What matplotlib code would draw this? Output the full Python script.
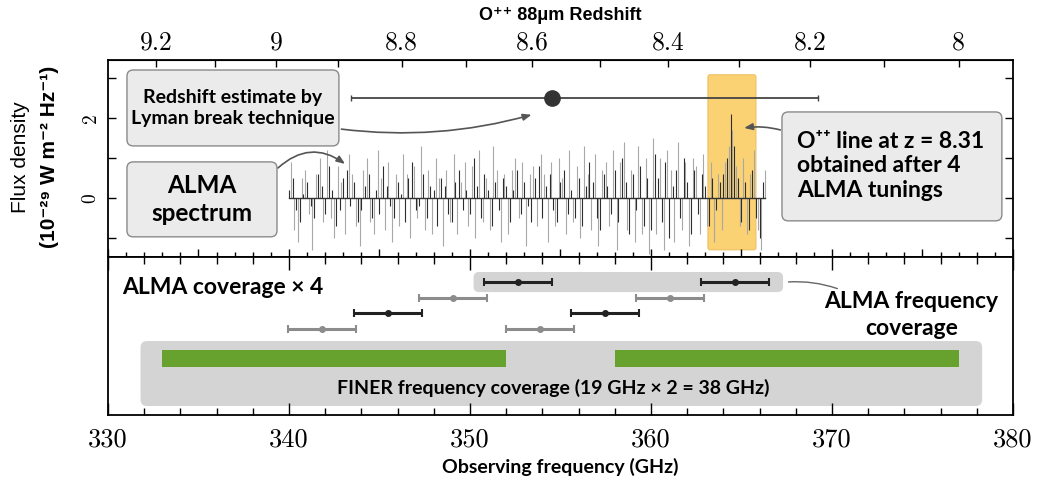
import matplotlib
matplotlib.use('Agg')
import matplotlib.pyplot as plt
from matplotlib.patches import FancyBboxPatch, Rectangle
import numpy as np

plt.rcParams['axes.formatter.use_mathtext'] = True

REST_GHZ = 3393.006  # [OIII] 88 micron rest frequency

# ALMA spectrum, 0.2 GHz channels (two interleaved sets)
spec_start = 340.0
spec_step = 0.2
spec_dark = [0.2, 0.5, -0.3, -0.6, 0.1, 0.4, -0.2, -0.5, 0.6, 0.3,
             -0.4, 0.8, 0.2, -0.7, -0.3, 0.5, 0.7, -0.2, 0.4, -0.6,
             -0.3, 0.3, 0.6, -0.5, 0.2, -0.4, 0.8, 0.3, -0.2, -0.5,
             0.4, 0.1, -0.6, 0.5, 0.9, -0.3, -0.2, 0.6, -0.5, 0.3,
             0.2, -0.7, 0.5, 0.3, -0.4, -0.6, 0.4, 0.7, -0.3, 0.2,
             -0.4, 1.0, 0.3, -0.5, 0.6, 0.2, -0.7, 0.4, -0.3, 0.5,
             0.3, -0.6, 0.2, 0.7, -0.4, 0.4, -0.2, -0.6, 0.5, 0.8,
             -0.5, 0.3, 0.6, -0.3, -0.6, 0.4, 0.7, -0.4, 0.2, -0.5,
             0.5, -0.7, 0.3, 0.9, 0.4, -0.5, -0.8, 0.6, 0.3, -0.4,
             0.7, -0.6, 1.0, 0.4, -0.9, 0.6, -0.3, 0.8, -0.7, 0.5,
             -0.8, 1.1, 0.5, -0.6, 0.9, -1.0, 0.3, 0.7, -0.5, 1.0,
             0.4, -0.9, 0.7, -0.4, 0.6, 0.3, -0.7, 0.5, -0.3, 0.4,
             0.6, 1.0, 2.1, 1.3, 0.5, -0.6, 0.4, -0.8, 0.7, -0.5,
             -1.0, 0.4]
spec_light = [0.9, -0.8, -1.1, 0.5, 0.7, -0.4, -1.3, 0.6, 1.0, -0.6,
              1.2, -0.5, -1.0, 0.8, 0.4, -0.9, 1.1, 0.6, -0.7, -1.2,
              0.7, 1.0, -0.6, -0.9, 1.2, 0.5, -0.8, 0.9, -1.1, 0.6,
              -0.7, 1.1, 0.6, -1.0, 0.8, -0.5, 1.3, -0.8, 0.7, -0.9,
              1.0, 0.5, -1.2, 0.7, -0.6, 1.1, -0.9, 0.4, 0.9, -0.7,
              0.8, -1.0, 1.2, -0.6, 0.5, -0.8, 1.3, 0.7, -1.1, 0.6,
              -0.9, 0.7, 1.0, -0.5, 0.9, -1.2, 0.6, 0.8, -0.7, 1.1,
              0.6, -1.1, 0.9, -0.7, 1.0, 0.5, -0.9, 1.2, -0.6, 0.8,
              -1.0, 1.3, 0.6, -0.8, 1.1, -1.2, 0.7, 0.9, -0.7, 1.2,
              -1.3, 0.9, 1.4, -0.8, 0.7, -1.1, 1.3, -0.9, 1.0, -1.4,
              1.5, -0.9, 1.0, -1.3, 1.2, 0.7, -1.1, 1.4, -0.8, 0.9,
              -1.2, 1.0, 0.8, -0.9, 1.1, -0.7, 0.9, -1.1, 0.6, -0.8,
              0.9, 1.3, 1.7, 0.8, -0.7, 1.0, -0.9, 0.6, 1.2, -0.8,
              -1.3, 0.7]

# Lyman break redshift estimate
z_lyman = 8.57
z_lyman_lo = 8.19
z_lyman_hi = 8.88
line_window = [363.15, 365.8]

# ALMA tunings (centres of the two sideband pairs) and FINER bands
tuning_centres = [[352.65, 364.65], [349.05, 361.05], [345.45, 357.45], [341.85, 353.85]]
tuning_colors = ['#222222', '#8c8c8c', '#222222', '#8c8c8c']
spw_half = 1.875
finer_bands = [[333.0, 352.0], [358.0, 377.0]]

freq_ticks = [330, 340, 350, 360, 370, 380]
z_ticks = [8.0, 8.2, 8.4, 8.6, 8.8, 9.0, 9.2]
z_labels = ['8', '8.2', '8.4', '8.6', '8.8', '9', '9.2']

TICKFONT = 'cmr10'
BOLD = ['Lato', 'DejaVu Sans']
SANS = ['Liberation Sans', 'DejaVu Sans']


def f2z(f):
    f = np.asarray(f, dtype=float)
    return REST_GHZ / np.where(f == 0, 1e-9, f) - 1


def z2f(z):
    z = np.asarray(z, dtype=float)
    return REST_GHZ / (1 + z)


def rbox(ax, x0, x1, y0, y1, fc, ec, r, aspect, **kw):
    p = FancyBboxPatch((x0, y0), x1 - x0, y1 - y0,
                       boxstyle='round,pad=0,rounding_size=%g' % r,
                       mutation_aspect=aspect, fc=fc, ec=ec, **kw)
    ax.add_patch(p)
    return p


fig = plt.figure(figsize=(10.39, 4.82), dpi=100)
ax1 = fig.add_axes([0.1039, 0.4668, 0.871, 0.4087])
ax2 = fig.add_axes([0.1039, 0.139, 0.871, 0.3278])

# ---------------- top panel: spectrum ----------------
f_dark = spec_start + spec_step * np.arange(len(spec_dark))
f_light = spec_start + spec_step / 2 + spec_step * np.arange(len(spec_light))
ax1.vlines(f_light, 0, spec_light, color='#a8a8a8', lw=0.8, zorder=2)
ax1.vlines(f_dark, 0, spec_dark, color='#2e2e2e', lw=0.8, zorder=3)
ax1.plot([f_dark[0], f_light[-1]], [0, 0], color='#333333', lw=1.0, zorder=3)

rbox(ax1, line_window[0], line_window[1], -1.3, 3.08, '#fbd273', '#efc060',
     0.12, 0.45, lw=0.8, zorder=1)

f_lb = z2f(z_lyman)
ax1.errorbar([f_lb], [2.5], xerr=[[f_lb - z2f(z_lyman_hi)], [z2f(z_lyman_lo) - f_lb]],
             fmt='o', ms=11, color='#333333', ecolor='#444444', elinewidth=1.3,
             capsize=2, capthick=1.0, zorder=6)

box_fc = '#ebebeb'
box_ec = '#8a8a8a'
rbox(ax1, 331.05, 342.76, 1.3, 3.2, box_fc, box_ec, 0.35, 0.45, lw=1.0, zorder=5)
ax1.text(336.9, 2.25, 'Redshift estimate by\nLyman break technique', ha='center',
         va='center', fontsize=14, fontweight='bold', family=BOLD, linespacing=1.25, zorder=7)
rbox(ax1, 331.05, 339.34, -0.975, 0.9, box_fc, box_ec, 0.35, 0.45, lw=1.0, zorder=5)
ax1.text(335.2, -0.04, 'ALMA\nspectrum', ha='center', va='center', fontsize=17.5,
         fontweight='bold', family=BOLD, linespacing=1.3, zorder=7)
rbox(ax1, 367.24, 379.39, -0.575, 2.15, box_fc, box_ec, 0.35, 0.45, lw=1.0, zorder=5)
ax1.text(368.05, 0.8, 'O\u207a\u207a line at z = 8.31\nobtained after 4\nALMA tunings',
         ha='left', va='center', fontsize=16.5, fontweight='bold', family=BOLD,
         linespacing=1.2, zorder=7)

arrow = dict(arrowstyle='-|>,head_length=0.5,head_width=0.2', color='#555555', lw=1.2,
             shrinkA=0, shrinkB=0)
ax1.annotate('', xy=(353.4, 2.08), xytext=(342.9, 1.72),
             arrowprops=dict(arrow, connectionstyle='arc3,rad=0.1'), zorder=7)
ax1.annotate('', xy=(343.1, 0.85), xytext=(339.4, 0.75),
             arrowprops=dict(arrow, connectionstyle='arc3,rad=-0.4'), zorder=7)
ax1.annotate('', xy=(365.15, 1.75), xytext=(367.15, 1.7),
             arrowprops=dict(arrow, connectionstyle='arc3,rad=0.1'), zorder=7)

ax1.set_xlim(330, 380)
ax1.set_ylim(-1.48, 3.45)
ax1.set_yticks([0, 2])
ax1.set_yticks([-1, 1, 3], minor=True)
ax1.set_yticklabels(['0', '2'], rotation=90, va='center', family=TICKFONT, fontsize=14)
ax1.set_xticks(np.arange(330, 381, 5))
ax1.set_xticks(np.arange(330, 381, 1), minor=True)
ax1.tick_params(axis='x', which='both', direction='in', labelbottom=False)
ax1.tick_params(axis='x', which='major', length=6, width=1.0)
ax1.tick_params(axis='x', which='minor', length=3.5, width=1.0)
ax1.tick_params(axis='y', which='both', direction='in', right=True, length=6, width=1.0, pad=6)

sec = ax1.secondary_xaxis('top', functions=(f2z, z2f))
sec.set_xticks(z_ticks)
sec.set_xticklabels(z_labels, family=TICKFONT, fontsize=18.5)
sec.set_xticks(np.arange(8.1, 9.3, 0.2), minor=True)
sec.tick_params(which='both', direction='in', length=5, width=1.0, pad=4)
sec.set_xlabel('O\u207a\u207a 88\u03bcm Redshift', fontsize=13, fontweight='bold',
               family=SANS, labelpad=8)

for a in (ax1, ax2):
    for s in a.spines.values():
        s.set_linewidth(1.3)

# ---------------- bottom panel: coverage ----------------
row_y = [0.842, 0.741, 0.646, 0.544]
rbox(ax2, 350.2, 367.3, 0.778, 0.905, '#d4d4d4', 'none', 0.3, 0.115, zorder=1)
for cents, col, y in zip(tuning_centres, tuning_colors, row_y):
    for c in cents:
        ax2.errorbar([c], [y], xerr=spw_half, fmt='o', ms=4, color=col, elinewidth=2.2,
                     capsize=3, capthick=1.5, zorder=3)

rbox(ax2, 331.8, 378.3, 0.057, 0.468, '#d4d4d4', 'none', 0.35, 0.115, zorder=1)
for lo, hi in finer_bands:
    ax2.add_patch(Rectangle((lo, 0.304), hi - lo, 0.107, fc='#67a22f', ec='none', zorder=2))
ax2.text(354.6, 0.171, 'FINER frequency coverage (19 GHz \u00d7 2 = 38 GHz)', ha='center',
         va='center', fontsize=14, fontweight='bold', family=BOLD, zorder=3)
ax2.text(330.8, 0.804, 'ALMA coverage \u00d7 4', ha='left', va='center', fontsize=16.5,
         fontweight='bold', family=BOLD)
ax2.text(374.4, 0.635, 'ALMA frequency\ncoverage', ha='center', va='center', fontsize=16.5,
         fontweight='bold', family=BOLD, linespacing=1.35)
ax2.annotate('', xy=(370.3, 0.80), xytext=(367.6, 0.842),
             arrowprops=dict(arrowstyle='-', color='#666666', lw=1.0, shrinkA=0, shrinkB=0,
                             connectionstyle='arc3,rad=-0.1'))

ax2.set_xlim(330, 380)
ax2.set_ylim(0, 1)
ax2.set_yticks([])
ax2.set_xticks(freq_ticks)
ax2.set_xticklabels([str(t) for t in freq_ticks], family=TICKFONT, fontsize=19)
ax2.set_xticks(np.arange(330, 381, 2), minor=True)
ax2.tick_params(axis='x', which='both', direction='in', top=True, width=1.0)
ax2.tick_params(axis='x', which='major', length=9, pad=9)
ax2.tick_params(axis='x', which='minor', length=5)
ax2.set_xlabel('Observing frequency (GHz)', fontsize=14, fontweight='bold', family=BOLD,
               labelpad=5)

fig.text(0.02, 0.675, 'Flux density', rotation=90, ha='center', va='center', fontsize=15,
         family=SANS)
fig.text(0.048, 0.675, '(10\u207b\u00b2\u2079 W m\u207b\u00b2 Hz\u207b\u00b9)', rotation=90,
         ha='center', va='center', fontsize=15, fontweight='bold', family=SANS)

fig.savefig('out.png', dpi=100)
